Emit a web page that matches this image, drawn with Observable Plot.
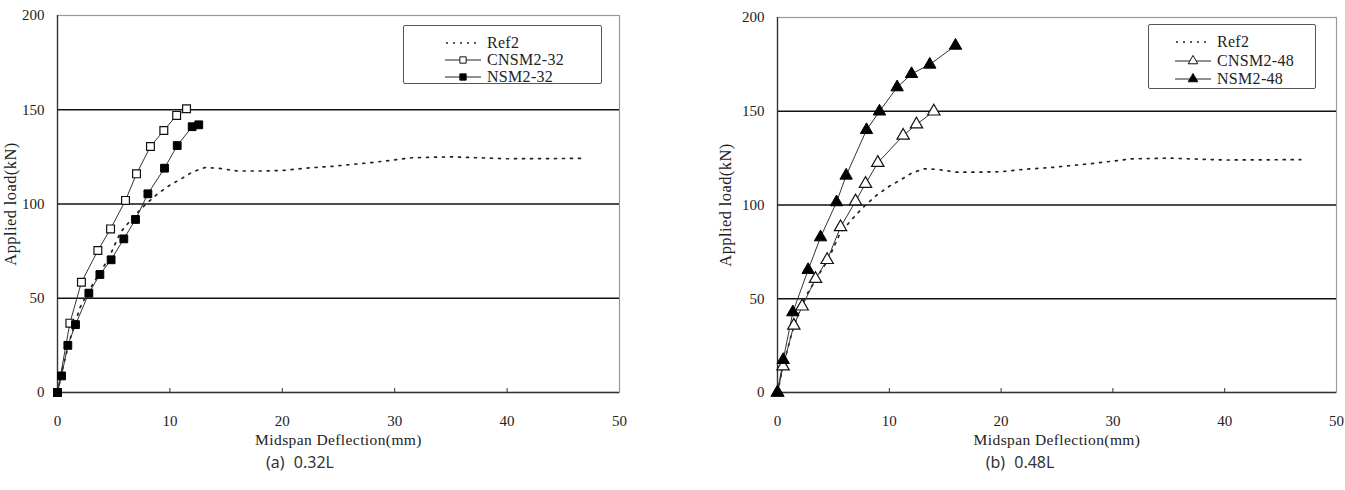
<!DOCTYPE html>
<html><head><meta charset="utf-8">
<script src="https://cdn.jsdelivr.net/npm/d3@7"></script>
<script src="https://cdn.jsdelivr.net/npm/@observablehq/plot@0.6"></script>
<style>
body{margin:0;background:#fff;}
#wrap{position:relative;width:1345px;height:490px;overflow:hidden;background:#fff;}
.panel{position:absolute;top:0;}
.panel svg, .panel svg text{font-family:"Liberation Serif",serif !important;}
.panel g[aria-label="y-axis label"] text{font-size:16.5px;letter-spacing:0.4px;}
.panel g[aria-label="x-axis label"] text{font-size:15.5px;letter-spacing:0.4px;}
.legend{position:absolute;border:1.5px solid #555;border-radius:2px;background:#fff;box-sizing:border-box;}
.row{position:absolute;height:16px;display:flex;align-items:center;font-family:"Liberation Serif",serif;font-size:16px;color:#222;letter-spacing:0.3px;white-space:nowrap;}
.row svg{margin-right:6px;}
.caption{position:absolute;top:451px;width:200px;text-align:center;font-family:"Noto Sans","DejaVu Sans",sans-serif;font-size:16px;color:#333;word-spacing:5px;}
</style>
</head><body>
<div id="wrap"></div>
<script>
// ---- data ----
const xTicks = [0, 10, 20, 30, 40, 50];
const yTicks = [0, 50, 100, 150, 200];
const gridTicks = [50, 100, 150];

const ref2Deflection = [0, 0.5, 1.2, 2, 2.7, 3.7, 4.5, 5.6, 6.6, 7.7, 8.9, 10, 11, 12, 13.1, 14.3, 16, 18, 20.1, 22, 24.5, 28, 31.7, 35, 40, 46.8];
const ref2Load       = [0, 14, 30, 45, 53, 63, 70.5, 85, 92, 99, 105.4, 110, 113.3, 117, 119.3, 119, 117.5, 117.5, 117.8, 119, 120, 122, 124.6, 125, 124, 124.2];

const cnsm32Deflection = [0, 1.1, 2.13, 3.59, 4.72, 6.05, 7.03, 8.27, 9.46, 10.6, 11.48];
const cnsm32Load       = [0, 36.8, 58.5, 75.3, 86.8, 101.9, 116, 130.5, 139, 147, 150.5];

const nsm32Deflection = [0, 0.36, 0.92, 1.6, 2.79, 3.77, 4.77, 5.9, 6.94, 8.04, 9.52, 10.65, 11.98, 12.57];
const nsm32Load       = [0, 8.8, 25, 36, 52.7, 62.6, 70.4, 81.5, 91.8, 105.4, 119, 131, 141, 142];

const cnsm48Deflection = [0, 0.5, 1.46, 2.2, 3.4, 4.44, 5.64, 6.98, 7.87, 8.97, 11.24, 12.43, 13.98];
const cnsm48Load       = [0, 14, 35.7, 45.9, 60.6, 70.7, 88.2, 102, 111.3, 122.5, 137, 143, 149.9];

const nsm48Deflection = [0, 0.51, 1.37, 2.74, 3.85, 5.28, 6.14, 7.96, 9.12, 10.7, 11.99, 13.62, 15.92];
const nsm48Load       = [0, 17.4, 42.8, 65.4, 82.8, 101.5, 115.7, 140, 149.9, 162.8, 169.9, 174.9, 185];

const zip = (xs, ys) => xs.map((x, i) => ({x, y: ys[i]}));

const ref2 = zip(ref2Deflection, ref2Load);

const panels = [
  {left: 0, marginLeft: 57, marginRight: 53, marginTop: 15, labelOffset: 53, symbol: "square", r: 4.4,
   open: zip(cnsm32Deflection, cnsm32Load), filled: zip(nsm32Deflection, nsm32Load),
   names: ["Ref2", "CNSM2-32", "NSM2-32"], caption: "(a) 0.32L", capX: 200,
   legend: {x: 403, y: 25, w: 199, h: 59, sx: 41, rows: [9, 26, 43]}},
  {left: 673, marginLeft: 104, marginRight: 9, marginTop: 17, labelOffset: 58, symbol: "triangle", r: 4.6,
   open: zip(cnsm48Deflection, cnsm48Load), filled: zip(nsm48Deflection, nsm48Load),
   names: ["Ref2", "CNSM2-48", "NSM2-48"], caption: "(b) 0.48L", capX: 920,
   legend: {x: 1148, y: 24, w: 168, h: 65, sx: 26, rows: [9, 28, 46]}}
];

const wrap = document.getElementById("wrap");

for (const p of panels) {
  const chart = Plot.plot({
    width: 672, height: 450,
    marginLeft: p.marginLeft, marginRight: p.marginRight, marginTop: p.marginTop, marginBottom: 58,
    x: {domain: [0, 50]},
    y: {domain: [0, 200]},
    style: {fontFamily: "'Liberation Serif', serif", fontSize: "15px", color: "#222", background: "white"},
    marks: [
      Plot.frame({stroke: "#999", strokeWidth: 1.2}),
      Plot.gridY(gridTicks, {stroke: "#111", strokeOpacity: 1, strokeWidth: 1.3}),
      Plot.ruleX([0], {stroke: "#333", strokeWidth: 1.3}),
      Plot.ruleY([0], {stroke: "#333", strokeWidth: 1.3}),
      Plot.axisY({ticks: yTicks, tickSize: 0, tickPadding: 13, fontSize: 15, label: "Applied load(kN)", labelAnchor: "center", labelArrow: "none", labelOffset: p.labelOffset}),
      Plot.axisX({ticks: xTicks, tickSize: 0, tickPadding: 23, fontSize: 15, label: "Midspan Deflection(mm)", labelAnchor: "center", labelArrow: "none", labelOffset: 52}),
      Plot.axisX({ticks: xTicks.slice(1, -1), tickSize: 4, dy: -4, tickFormat: () => "", label: null, stroke: "#333"}),
      Plot.line(ref2, {x: "x", y: "y", stroke: "#222", strokeWidth: 1.7, strokeDasharray: "2,6"}),
      Plot.line(p.open, {x: "x", y: "y", stroke: "#333", strokeWidth: 1}),
      Plot.line(p.filled, {x: "x", y: "y", stroke: "#333", strokeWidth: 1}),
      Plot.dot(p.open, {x: "x", y: "y", symbol: p.symbol, r: p.r, fill: "white", stroke: "#111", strokeWidth: 1.2}),
      Plot.dot(p.filled, {x: "x", y: "y", symbol: p.symbol, r: p.r, fill: "#000", stroke: "#000", strokeWidth: 1})
    ]
  });
  const div = document.createElement("div");
  div.className = "panel";
  div.style.left = p.left + "px";
  div.appendChild(chart);
  wrap.appendChild(div);

  // legend
  const lg = document.createElement("div");
  lg.className = "legend";
  Object.assign(lg.style, {left: p.legend.x + "px", top: p.legend.y + "px", width: p.legend.w + "px", height: p.legend.h + "px"});
  p.names.forEach((name, i) => {
    const row = document.createElement("div");
    row.className = "row";
    row.style.left = p.legend.sx + "px";
    row.style.top = p.legend.rows[i] + "px";
    const s = d3.create("svg").attr("width", 36).attr("height", 12);
    if (i === 0) {
      s.append("line").attr("x1", 1).attr("x2", 35).attr("y1", 6).attr("y2", 6).attr("stroke", "#222").attr("stroke-width", 1.5).attr("stroke-dasharray", "2,5");
    } else {
      s.append("line").attr("x1", 0).attr("x2", 36).attr("y1", 6).attr("y2", 6).attr("stroke", "#222").attr("stroke-width", 1.2);
      const sym = d3.symbol(p.symbol === "square" ? d3.symbolSquare : d3.symbolTriangle, 40)();
      s.append("path").attr("d", sym).attr("transform", "translate(18,6)")
        .attr("fill", i === 1 ? "white" : "black").attr("stroke", "#111").attr("stroke-width", 1);
    }
    row.appendChild(s.node());
    const t = document.createElement("span");
    t.textContent = name;
    row.appendChild(t);
    lg.appendChild(row);
  });
  wrap.appendChild(lg);

  const cap = document.createElement("div");
  cap.className = "caption";
  cap.style.left = p.capX + "px";
  cap.textContent = p.caption;
  wrap.appendChild(cap);
}
</script>
</body></html>
